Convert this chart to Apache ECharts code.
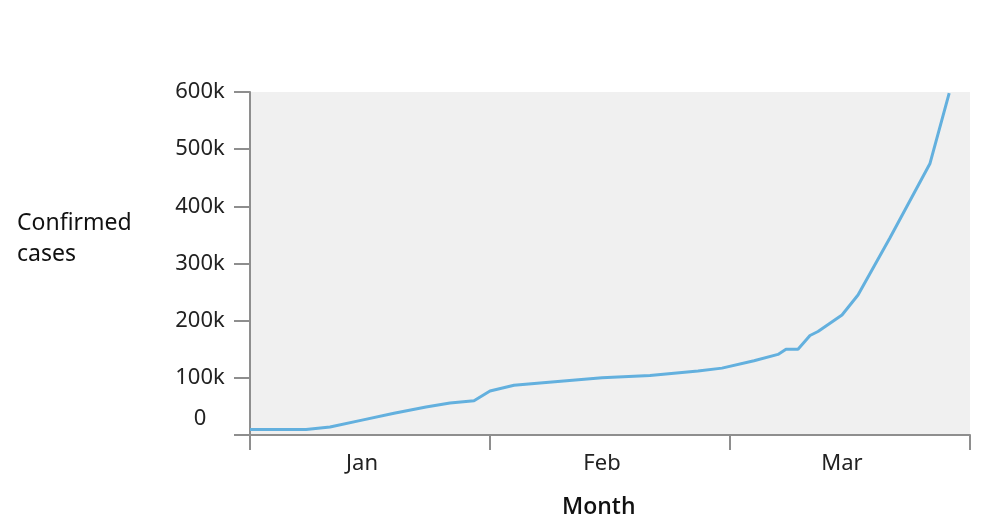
<!DOCTYPE html>
<html>
<head>
<meta charset="utf-8">
<script src="https://cdn.jsdelivr.net/npm/echarts@6/dist/echarts.min.js"></script>
<style>html,body{margin:0;padding:0;background:#fff}#c{width:1000px;height:529px}</style>
</head>
<body>
<div id="c"></div>
<script>
var months = ['Jan', 'Feb', 'Mar'];
var days = [0, 7, 10, 14, 18, 22, 25, 28, 30, 33, 37, 44, 50, 56, 59, 63, 66, 67, 68.5, 70, 71, 74, 76, 80, 85, 87.4];
var cases = [9500, 9500, 14000, 26000, 38000, 49000, 56000, 60000, 77000, 87000, 92000, 100000, 104000, 112000, 117000, 130000, 141000, 150000, 150000, 174000, 181000, 210000, 245000, 345000, 475000, 598000];
var yTicks = [0, 100000, 200000, 300000, 400000, 500000, 600000];

var FONT = '"Noto Sans", sans-serif';
var AX = '#8e8e8e';
var chart = echarts.init(document.getElementById('c'));
chart.setOption({
  animation: false,
  grid: { left: 250, right: 30, top: 92, bottom: 94, show: true, backgroundColor: '#f0f0f0', borderWidth: 0 },
  xAxis: [{
    type: 'category', data: months, boundaryGap: true,
    axisLine: { lineStyle: { color: AX, width: 2 } },
    axisTick: { show: true, length: 15, interval: 0, lineStyle: { color: AX, width: 2 } },
    axisLabel: { margin: 18, fontSize: 22, color: '#222', fontFamily: FONT, padding: [0, 16, 0, 0] }
  }, {
    type: 'value', min: 0, max: 90, show: false
  }],
  yAxis: {
    type: 'value', min: yTicks[0], max: yTicks[yTicks.length - 1], interval: 100000,
    axisLine: { show: true, lineStyle: { color: AX, width: 2 } },
    axisTick: { show: true, length: 16, lineStyle: { color: AX, width: 2 } },
    splitLine: { show: false },
    axisLabel: {
      margin: 50, align: 'center', fontSize: 22, color: '#222', fontFamily: FONT,
      formatter: function (v) { return v === 0 ? '{z|0}' : (v / 1000) + 'k'; },
      rich: { z: { fontSize: 22, color: '#222', fontFamily: FONT, padding: [0, 0, 32, 0] } }
    }
  },
  graphic: [
    { type: 'text', left: 17, top: 208, style: { text: 'Confirmed\ncases', fontSize: 23, lineHeight: 31, fill: '#111', fontFamily: FONT } },
    { type: 'text', left: 562, top: 496, style: { text: 'Month', fontSize: 23, fontWeight: 600, fill: '#111', fontFamily: '"Open Sans", "Noto Sans", sans-serif' } }
  ],
  series: [{
    type: 'line', xAxisIndex: 1, showSymbol: false,
    data: days.map(function (d, i) { return [d, cases[i]]; }),
    lineStyle: { color: '#63b0de', width: 3 }
  }]
});
</script>
</body>
</html>
